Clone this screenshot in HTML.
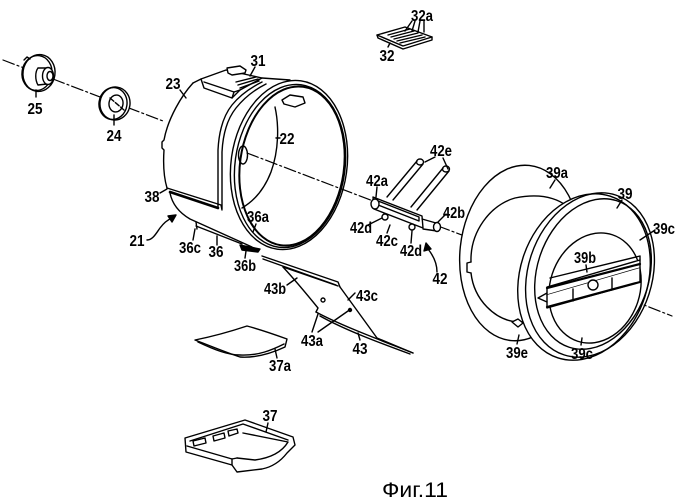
<!DOCTYPE html>
<html><head><meta charset="utf-8">
<style>
html,body{margin:0;padding:0;background:#fff;width:680px;height:500px;overflow:hidden}
svg{display:block}
text{font-family:"Liberation Sans",sans-serif;font-size:16px;fill:#000;text-anchor:middle}
.l{font-weight:bold}
</style></head><body>
<svg width="680" height="500" viewBox="0 0 680 500" xmlns="http://www.w3.org/2000/svg">
<g fill="none" stroke="#000" stroke-width="1.4" stroke-linejoin="round" stroke-linecap="round">

<!-- axis -->
<g stroke-dasharray="12 3 2 3" stroke-width="1.2">
<path d="M3,60 L24,68"/>
<path d="M53,79 L163,121"/>
<path d="M247,153 L373,201"/>
<path d="M438,226 L523,258"/>
<path d="M593,285 L672,316"/>
</g>

<!-- 25 -->
<ellipse cx="39" cy="73" rx="16" ry="18.5" transform="rotate(8 39 73)" fill="#fff"/>
<ellipse cx="37" cy="73" rx="15" ry="17.5" transform="rotate(8 37 73)"/>
<path d="M24,60 L27,57 L30,59" />
<path d="M38,68 L46,68 M38,85 L47,84 M38,68 C35,72 35,80 38,85"/>
<ellipse cx="48" cy="76" rx="5.5" ry="8.5" fill="#fff"/>
<ellipse cx="50" cy="76" rx="3" ry="4.5"/>
<path d="M36,90 L36,97"/>

<!-- 24 -->
<ellipse cx="115" cy="103.5" rx="15" ry="16.5" transform="rotate(8 115 103.5)" fill="#fff"/>
<ellipse cx="113" cy="103.5" rx="14" ry="16" transform="rotate(8 113 103.5)"/>
<ellipse cx="116" cy="103.5" rx="7" ry="8.5" transform="rotate(8 116 103.5)"/>
<path d="M110,98 L124,110" stroke-dasharray="5 2"/>
<path d="M114,115 L114,125"/>

<!-- drum 21 body -->
<path d="M193,83 C182,95 168,118 164,140 L162,142 L162,148 L164,150 C163,165 164,178 167,188"/>
<path d="M167,188 L221,205 L222,210"/>
<path d="M170,192 L218,208" stroke-width="2.6"/>
<path d="M170,193 C172,203 178,212 190,219 L252,247"/>
<path d="M196,226 L242,244 M196,222 L197,229"/>
<path d="M240,245 L260,249 L258,252 L242,250 Z" fill="#000"/>
<path d="M193,83 L201,79"/>
<path d="M262,78 L290,80"/>
<!-- 31 housing -->
<path d="M201,79 L204,88 L232,98 L240,90 L262,78 L226,70 Z" fill="#fff"/>
<path d="M204,82 L234,92 L240,90"/>
<path d="M234,92 L232,98"/>
<path d="M236,82 L256,77 M238,85 L258,79 M240,88 L259,81"/>
<path d="M227,68 L240,66 L246,70 L245,73 L232,75 L228,73 Z" fill="#fff"/>
<path d="M255,67 L250,76"/>
<!-- front band -->
<path d="M218,208 L218,150 C219,130 224,115 232,105 C240,95 250,88 262,82"/>
<path d="M222,209 L222,152 C223,132 228,118 236,108 C244,98 254,90 266,84"/>
<!-- ring -->
<ellipse cx="289" cy="165" rx="58" ry="85" transform="rotate(8 289 165)"/>
<ellipse cx="290" cy="166" rx="55" ry="82" transform="rotate(8 290 166)"/>
<ellipse cx="292" cy="166" rx="52" ry="80" transform="rotate(8 292 166)" stroke-width="2"/>
<path d="M275,107 C279,125 279,150 271,172 C264,190 254,201 242,208"/>
<ellipse cx="243" cy="155" rx="4.5" ry="9"/>
<path d="M282,100 L290,95 L303,97 L305,103 L295,107 L284,104 Z" fill="#fff"/>
<path d="M276,138 L280,138"/>
<!-- 21 arrow -->
<path d="M147,240 C153,240 157,232 160,228 C163,224 167,220 172,218"/>
<path d="M176,215 L168,216 L172,222 Z" fill="#000"/>
<!-- leaders drum -->
<path d="M180,90 L186,98"/>
<path d="M160,193 L167,189"/>
<path d="M256,224 L253,232"/>
<path d="M193,240 L195,229"/>
<path d="M217,245 L217,236"/>
<path d="M245,258 L246,251"/>

<!-- 32 -->
<path d="M377,35 L405,27 L432,37 L403,46 Z" fill="#fff"/>
<path d="M377,35 L378,38 L403,49 L432,40 L432,37"/>
<path d="M388,35 L410,29 M391,37 L414,31 M394,39 L418,33 M397,41 L422,35 M400,43 L425,37"/>
<path d="M412,21 L405,31 M415,21 L412,31 M420,21 L418,32 M424,21 L424,32"/>
<path d="M388,47 L390,43"/>

<!-- 42 -->
<path d="M387,197 L417,161 M393,200 L423,164"/>
<ellipse cx="420" cy="162" rx="3.5" ry="3" />
<path d="M411,207 L443,168 M417,210 L449,171"/>
<ellipse cx="446" cy="169" rx="3.5" ry="3"/>
<path d="M373,197 L422,216 L423,228 L374,209 Z" fill="#fff"/>
<path d="M378,201 L419,217 L419,221 L378,205 Z"/>
<ellipse cx="375" cy="204" rx="4" ry="5" fill="#fff"/>
<path d="M422,219 L436,223 M423,229 L437,231"/>
<ellipse cx="437" cy="227" rx="3.5" ry="4.5" fill="#fff"/>
<circle cx="385" cy="217" r="3" fill="#fff"/>
<circle cx="412" cy="227" r="3" fill="#fff"/>
<path d="M435,157 L425,162 M443,158 L448,169"/>
<path d="M377,187 L376,197"/>
<path d="M446,214 L438,222"/>
<path d="M368,225 L382,218"/>
<path d="M387,233 L390,225"/>
<path d="M411,243 L412,231"/>
<path d="M437,272 C437,262 432,254 428,249"/>
<path d="M426,243 L424,251 L431,249 Z" fill="#000"/>

<!-- 39 back ring -->
<ellipse cx="520" cy="253" rx="60" ry="88" transform="rotate(6 520 253)" fill="#fff"/>
<path d="M471,262 C470,232 490,205 515,198 C545,192 565,200 575,215 M471,273 C474,300 495,320 517,322 C528,322 540,318 548,310"/>
<path d="M471,262 L467,263 L467,272 L471,273"/>
<!-- front disc -->
<ellipse cx="584" cy="277" rx="64" ry="85" transform="rotate(18 584 277)" fill="#fff"/>
<ellipse cx="590" cy="275" rx="62" ry="84" transform="rotate(18 590 275)"/>
<ellipse cx="593" cy="274" rx="56" ry="77" transform="rotate(18 593 274)"/>
<ellipse cx="595" cy="288" rx="45" ry="56" transform="rotate(18 595 288)"/>
<path d="M547,287 L640,260 L640,268 L547,295 Z" fill="#fff"/>
<path d="M550,278 L640,256 L640,260"/>
<path d="M547,295 L547,308 L640,282 L640,268" fill="#fff"/>
<path d="M547,288 L640,264" stroke-width="2.2"/>
<path d="M547,307 L640,282" stroke-width="2.2"/>
<path d="M573,289 L573,301 M612,278 L612,290"/>
<circle cx="593" cy="285" r="5" fill="#fff"/>
<path d="M547,293 L538,298 L547,302"/>
<path d="M512,322 L518,319 L523,323 L518,327 Z" fill="#fff"/>
<path d="M555,180 L550,188"/>
<path d="M622,200 L617,208"/>
<path d="M655,230 L640,240"/>
<path d="M586,265 L587,272"/>
<path d="M517,344 L519,335"/>
<path d="M581,345 L582,338"/>

<!-- 43 -->
<path d="M262,256 L338,282 L340,287 M263,259 L336,285"/>
<path d="M283,267 L338,286"/>
<path d="M340,287 L377,338 L413,353"/>
<path d="M283,267 C295,280 305,292 318,308 L316,312"/>
<path d="M316,312 C340,325 380,340 413,353"/>
<path d="M320,316 C345,330 380,343 410,354"/>
<circle cx="323" cy="300" r="2"/>
<circle cx="350" cy="310" r="1.5" fill="#000"/>
<path d="M287,285 L297,278"/>
<path d="M355,293 L348,300"/>
<path d="M312,332 L318,314 M318,332 L348,311"/>
<path d="M360,340 L358,333"/>

<!-- 37a -->
<path d="M195,340 C215,336 235,330 247,326 C262,330 276,335 287,339 L285,347 C270,354 255,358 240,357 C225,352 208,345 195,340 Z" fill="#fff"/>
<path d="M198,342 C215,350 228,355 240,355 C258,356 272,350 284,344"/>
<path d="M277,358 L275,349"/>

<!-- 37 tray -->
<path d="M185,438 L245,420 L293,437 L295,445 L287,453 C280,462 272,467 262,469 L237,472 L232,465 L186,452 Z" fill="#fff"/>
<path d="M190,441 L243,424 L288,440"/>
<path d="M243,433 L288,442 C282,452 270,458 255,460 L237,458"/>
<path d="M187,446 L232,459 L237,458"/>
<path d="M193,441 L205,438 L206,443 L194,446 Z M213,436 L224,433 L225,438 L214,441 Z M228,431 L237,429 L238,433 L229,436 Z"/>
<path d="M232,459 L232,465"/>
<path d="M268,423 L266,432"/>
</g>

<!-- labels -->
<g class="l">
<text x="35" y="114" textLength="15" lengthAdjust="spacingAndGlyphs">25</text>
<text x="114" y="141" textLength="15" lengthAdjust="spacingAndGlyphs">24</text>
<text x="173" y="89" textLength="15" lengthAdjust="spacingAndGlyphs">23</text>
<text x="258" y="66" textLength="15" lengthAdjust="spacingAndGlyphs">31</text>
<text x="287" y="144" textLength="15" lengthAdjust="spacingAndGlyphs">22</text>
<text x="152" y="202" textLength="15" lengthAdjust="spacingAndGlyphs">38</text>
<text x="137" y="246" textLength="15" lengthAdjust="spacingAndGlyphs">21</text>
<text x="258" y="222" textLength="22" lengthAdjust="spacingAndGlyphs">36a</text>
<text x="190" y="253" textLength="22" lengthAdjust="spacingAndGlyphs">36c</text>
<text x="216" y="257" textLength="15" lengthAdjust="spacingAndGlyphs">36</text>
<text x="245" y="271" textLength="22" lengthAdjust="spacingAndGlyphs">36b</text>
<text x="422" y="21" textLength="22" lengthAdjust="spacingAndGlyphs">32a</text>
<text x="387" y="61" textLength="15" lengthAdjust="spacingAndGlyphs">32</text>
<text x="441" y="156" textLength="22" lengthAdjust="spacingAndGlyphs">42e</text>
<text x="377" y="186" textLength="22" lengthAdjust="spacingAndGlyphs">42a</text>
<text x="454" y="218" textLength="22" lengthAdjust="spacingAndGlyphs">42b</text>
<text x="361" y="233" textLength="22" lengthAdjust="spacingAndGlyphs">42d</text>
<text x="387" y="246" textLength="22" lengthAdjust="spacingAndGlyphs">42c</text>
<text x="411" y="256" textLength="22" lengthAdjust="spacingAndGlyphs">42d</text>
<text x="440" y="284" textLength="15" lengthAdjust="spacingAndGlyphs">42</text>
<text x="557" y="178" textLength="22" lengthAdjust="spacingAndGlyphs">39a</text>
<text x="625" y="199" textLength="15" lengthAdjust="spacingAndGlyphs">39</text>
<text x="664" y="234" textLength="22" lengthAdjust="spacingAndGlyphs">39c</text>
<text x="585" y="263" textLength="22" lengthAdjust="spacingAndGlyphs">39b</text>
<text x="517" y="358" textLength="22" lengthAdjust="spacingAndGlyphs">39e</text>
<text x="582" y="359" textLength="22" lengthAdjust="spacingAndGlyphs">39c</text>
<text x="275" y="294" textLength="22" lengthAdjust="spacingAndGlyphs">43b</text>
<text x="367" y="301" textLength="22" lengthAdjust="spacingAndGlyphs">43c</text>
<text x="312" y="346" textLength="22" lengthAdjust="spacingAndGlyphs">43a</text>
<text x="360" y="354" textLength="15" lengthAdjust="spacingAndGlyphs">43</text>
<text x="280" y="371" textLength="22" lengthAdjust="spacingAndGlyphs">37a</text>
<text x="270" y="421" textLength="15" lengthAdjust="spacingAndGlyphs">37</text>
</g>
<text x="415" y="497" style="font-size:21px" textLength="66" lengthAdjust="spacingAndGlyphs">Фиг.11</text>
</svg>
</body></html>
